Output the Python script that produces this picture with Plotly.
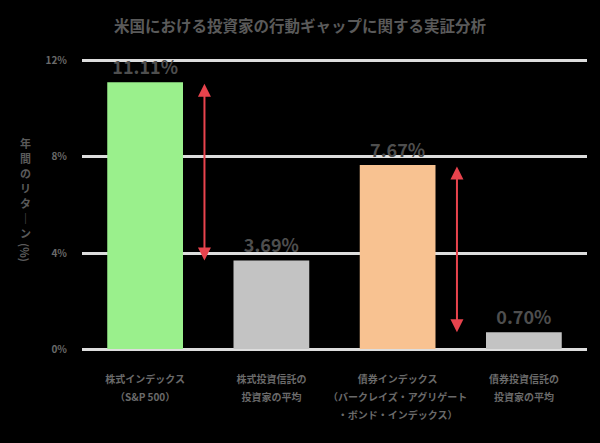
import plotly.graph_objects as go

categories = [
    "株式インデックス<br>（S&P 500）",
    "株式投資信託の<br>投資家の平均",
    "債券インデックス<br>（バークレイズ・アグリゲート<br>・ボンド・インデックス）",
    "債券投資信託の<br>投資家の平均",
]
values = [11.11, 3.69, 7.67, 0.70]
value_labels = ["11.11%", "3.69%", "7.67%", "0.70%"]
bar_colors = ["#9AF08C", "#C3C3C3", "#F8C291", "#C3C3C3"]
y_ticks = [0, 4, 8, 12]
y_tick_labels = ["0%", "4%", "8%", "12%"]
gaps = [(0, 1), (2, 3)]  # pairs of bars compared by arrows

title = "米国における投資家の行動ギャップに関する実証分析"
y_title_chars = ["年", "間", "の", "リ", "タ", "｜", "ン"]

FONT = "Noto Sans CJK JP"
GRAY = "#5a5a5a"

W, H = 600, 443
ml, mr, mt, mb = 82, 13, 59, 92
pw, ph = W - ml - mr, H - mt - mb


def px2paper(px, py):
    return (px - ml) / pw, (H - mb - py) / ph


xs = list(range(len(categories)))
tick_text = [
    "<br>".join("<span style='font-size:10px'><b>%s</b></span>" % ln for ln in c.split("<br>"))
    for c in categories
]

fig = go.Figure()
fig.add_trace(go.Bar(
    x=xs, y=values, width=0.6,
    marker=dict(color=bar_colors, line=dict(width=0)),
    text=["<b>%s</b>" % t for t in value_labels],
    textposition="outside",
    textfont=dict(family=FONT, size=18, color="#4e4e4e"),
    cliponaxis=False,
    hoverinfo="skip",
))

annotations = []
for a, b in gaps:
    xm = (xs[a] + xs[b]) / 2 - 0.03
    annotations.append(dict(
        x=xm, y=values[b], ax=xm, ay=values[a],
        xref="x", yref="y", axref="x", ayref="y",
        text="", showarrow=True, arrowside="end+start",
        arrowhead=2, arrowsize=1.3, arrowwidth=2, arrowcolor="#E8434D",
    ))

tx, ty = px2paper(300, 25)
annotations.append(dict(
    text="<b>%s</b>" % title, x=tx, y=ty, xref="paper", yref="paper",
    xanchor="center", yanchor="middle", showarrow=False,
    font=dict(family=FONT, size=15.5, color=GRAY),
))
yx, yy = px2paper(25, 133)
annotations.append(dict(
    text="<br>".join("<span style='font-size:11px'><b>%s</b></span>" % c for c in y_title_chars),
    x=yx, y=yy, xref="paper", yref="paper", showarrow=False,
    xanchor="center", yanchor="top",
    font=dict(family=FONT, size=11.5, color=GRAY),
))
px_, py_ = px2paper(25, 252)
annotations.append(dict(
    text="<b>(%)</b>", textangle=90,
    x=px_, y=py_, xref="paper", yref="paper", showarrow=False,
    xanchor="center", yanchor="middle",
    font=dict(family=FONT, size=11, color=GRAY),
))

fig.update_layout(
    width=W, height=H,
    margin=dict(l=ml, r=mr, t=mt, b=mb, autoexpand=False),
    paper_bgcolor="black", plot_bgcolor="black",
    showlegend=False,
    hovermode=False,
    annotations=annotations,
    xaxis=dict(
        range=[-0.5, 3.5], tickvals=xs, ticktext=tick_text, automargin=False,
        tickfont=dict(family=FONT, size=14, color="#6a6a6a"),
        showgrid=False, zeroline=False, showline=False,
        ticks="outside", ticklen=14, tickcolor="rgba(0,0,0,0)",
    ),
    yaxis=dict(
        range=[-0.08, 12.08], tickvals=y_ticks, automargin=False,
        ticktext=["<b>%s</b>" % t for t in y_tick_labels],
        tickfont=dict(family=FONT, size=10, color="#6a6a6a"),
        showgrid=True, gridcolor="#DDDDDD", gridwidth=3,
        zeroline=False, showline=False,
        ticks="outside", ticklen=12, tickcolor="rgba(0,0,0,0)",
    ),
)

fig.write_html(
    "out.html",
    config={"displayModeBar": False, "staticPlot": True},
    post_script="document.body.style.margin='0';document.body.style.background='black';",
)
